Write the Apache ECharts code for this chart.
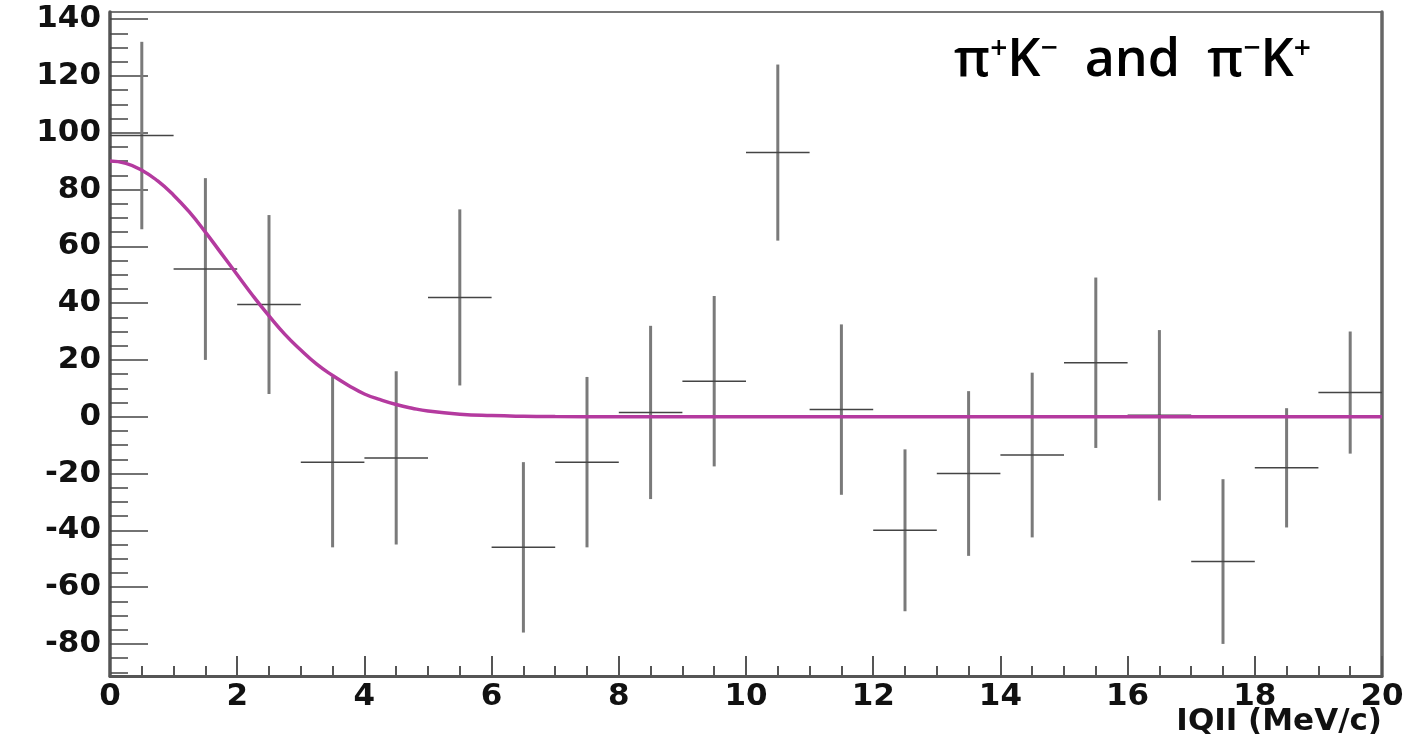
<!DOCTYPE html>
<html>
<head>
<meta charset="utf-8">
<script src="https://cdn.jsdelivr.net/npm/echarts@6/dist/echarts.min.js"></script>
<style>
html,body{margin:0;padding:0;background:#fff;}
#chart{width:1416px;height:746px;}
</style>
</head>
<body>
<div id="chart"></div>
<script>
// ---- data ----
const binCenters = [0.5,1.5,2.5,3.5,4.5,5.5,6.5,7.5,8.5,9.5,10.5,11.5,12.5,13.5,14.5,15.5,16.5,17.5,18.5,19.5];
const counts     = [99,52,39.5,-16,-14.5,42,-46,-16,1.5,12.5,93,2.5,-40,-20,-13.5,19,0.5,-51,-18,8.5];
const errors     = [33,32,31.5,30,30.5,31,30,30,30.5,30,31,30,28.5,29,29,30,30,29,21,21.5];
const binWidth = 1;

const fitQ = [0,0.25,0.5,0.75,1.0,1.25,1.5,1.75,2.0,2.25,2.5,2.75,3.0,3.25,3.5,3.75,4.0,4.25,4.5,4.75,5.0,5.5,6.0,6.5,7.0,8.0,20];
const fitY = [90,89.2,86.8,83,78,72,65,57.5,50,42.5,35.5,29,23.5,18.5,14.5,11,8,6,4.3,3,2,0.9,0.4,0.15,0.05,0,0];

const xTicks = [0,2,4,6,8,10,12,14,16,18,20];
const yTicks = [-80,-60,-40,-20,0,20,40,60,80,100,120,140];
const yMinorTicks = [-90,-85,-75,-70,-65,-55,-50,-45,-35,-30,-25,-15,-10,-5,5,10,15,25,30,35,45,50,55,65,70,75,85,90,95,105,110,115,125,130,135];
const yMin = -91.3, yMax = 142.5;
const xLabel = 'IQII (MeV/c)';

// ---- chart ----
const chart = echarts.init(document.getElementById('chart'));
const labelFont = {fontFamily:'DejaVu Sans', fontWeight:'bold', fontSize:31, color:'#111'};

const histData = binCenters.map((c,i)=>[c, counts[i], errors[i]]);
const fitData = fitQ.map((q,i)=>[q, fitY[i]]);

chart.setOption({
  animation:false,
  backgroundColor:'#fff',
  grid:{left:110,right:34,top:12,bottom:70,show:true,borderColor:'#777',borderWidth:2,backgroundColor:'transparent'},
  xAxis:[{
    type:'value',min:0,max:20,interval:2,
    axisLine:{show:true,onZero:false,lineStyle:{color:'#555',width:3}},
    axisTick:{show:true,inside:true,length:20,lineStyle:{color:'#555',width:2}},
    minorTick:{show:true,splitNumber:4,length:10,lineStyle:{color:'#555',width:2}},
    axisLabel:Object.assign({margin:5,customValues:xTicks},labelFont),
    splitLine:{show:false},minorSplitLine:{show:false}
  }],
  yAxis:[{
    type:'value',min:yMin,max:yMax,position:'left',
    axisLine:{show:true,onZero:false,lineStyle:{color:'#555',width:3.5}},
    axisTick:{show:true,inside:true,length:38,customValues:yTicks,lineStyle:{color:'#444',width:1.5}},
    axisLabel:Object.assign({margin:9,customValues:yTicks},labelFont),
    splitLine:{show:false}
  },{
    type:'value',min:yMin,max:yMax,position:'left',
    axisLine:{show:false},
    axisTick:{show:true,inside:true,length:18,customValues:yMinorTicks,lineStyle:{color:'#444',width:1.5}},
    axisLabel:{show:false},
    splitLine:{show:false}
  },{
    type:'value',min:yMin,max:yMax,position:'right',
    axisLine:{show:true,onZero:false,lineStyle:{color:'#666',width:3.5}},
    axisTick:{show:false},axisLabel:{show:false},splitLine:{show:false}
  }],
  graphic:[{
    type:'text',right:34,top:706,
    style:{text:xLabel,fontFamily:'DejaVu Sans',fontWeight:'bold',fontSize:31,fill:'#111'}
  },{
    type:'text',left:954,top:34,
    style:{
      text:'π{sup|+}K{sup|−}  and  π{sup|−}K{sup|+}',
      fontFamily:'Open Sans',fontWeight:600,fontSize:52,fill:'#000',
      rich:{sup:{fontFamily:'Open Sans',fontWeight:600,fontSize:30,verticalAlign:'top',padding:[0,0,24,0]}}
    }
  }],
  series:[{
    type:'custom',
    coordinateSystem:'cartesian2d',
    data:histData,
    encode:{x:0,y:1},
    z:3,
    renderItem:function(params,api){
      const x=api.value(0), y=api.value(1), e=api.value(2);
      const top=api.coord([x,y+e]), bot=api.coord([x,y-e]);
      const l=api.coord([x-binWidth/2,y]), r=api.coord([x+binWidth/2,y]);
      return {type:'group',children:[
        {type:'line',shape:{x1:top[0],y1:top[1],x2:bot[0],y2:bot[1]},style:{stroke:'#7a7a7a',lineWidth:3}},
        {type:'line',shape:{x1:l[0],y1:l[1],x2:r[0],y2:r[1]},style:{stroke:'#444',lineWidth:1.5}}
      ]};
    }
  },{
    type:'line',
    data:fitData,
    smooth:true,
    showSymbol:false,
    z:4,
    lineStyle:{color:'#b43a9f',width:3.5}
  }]
});
</script>
</body>
</html>
